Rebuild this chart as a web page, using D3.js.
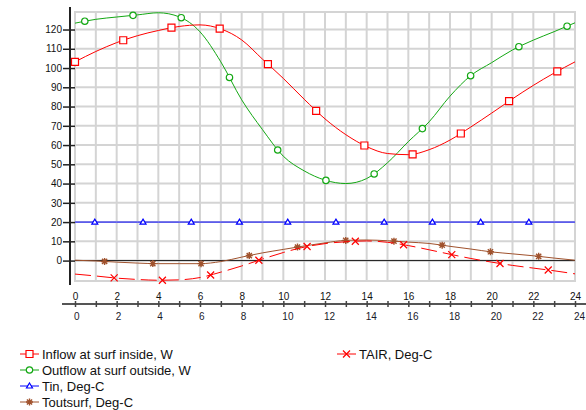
<!DOCTYPE html>
<html>
<head>
<meta charset="utf-8">
<script src="https://cdn.jsdelivr.net/npm/d3@7"></script>
<style>
  body { margin: 0; background: #fff; }
  svg { display: block; font-family: Arial, "Liberation Sans", sans-serif; }
</style>
</head>
<body>
<div id="chart"></div>
<script>
// Hour of day (x axis)
var hours = [0, 1, 2, 3, 4, 5, 6, 7, 8, 9, 10, 11, 12, 13, 14, 15, 16, 17, 18, 19, 20, 21, 22, 23, 24];

// Series values, one per hour
var inflow = [103.2, 108.6, 113.2, 116.8, 119.5, 121.6, 122.4, 120.3, 114.6, 104.6, 94.6, 83.8, 73.6, 65.4, 59.2, 55.6, 55.0, 57.6, 62.6, 69.4, 76.6, 84.0, 91.0, 97.4, 103.2];
var outflow = [123.3, 125.3, 126.5, 127.6, 128.7, 126.6, 118.8, 103.2, 83.5, 68.0, 54.2, 46.6, 41.8, 40.0, 42.6, 50.8, 61.8, 72.1, 85.4, 96.1, 102.8, 109.4, 114.5, 118.9, 123.5];
var tin = [20, 20, 20, 20, 20, 20, 20, 20, 20, 20, 20, 20, 20, 20, 20, 20, 20, 20, 20, 20, 20, 20, 20, 20, 20];
var toutsurf = [0.2, -0.2, -0.8, -1.3, -1.6, -1.6, -1.6, -0.5, 1.8, 4.0, 5.8, 7.6, 9.2, 10.5, 10.7, 10.3, 9.6, 8.9, 7.4, 6.0, 4.5, 3.5, 2.5, 1.3, 0.2];
var tair = [-7.0, -8.0, -9.1, -9.8, -10.2, -10.0, -8.8, -6.0, -2.8, 0.8, 4.2, 7.0, 8.8, 9.8, 10.2, 9.5, 7.8, 5.6, 3.3, 1.1, -0.8, -2.5, -3.9, -5.3, -6.9];

var seriesNames = ["Inflow at surf inside, W", "Outflow at surf outside, W", "Tin, Deg-C", "Toutsurf, Deg-C", "TAIR, Deg-C"];

// Tick labels
var yTicks = [0, 10, 20, 30, 40, 50, 60, 70, 80, 90, 100, 110, 120];
var xLabels = [0, 2, 4, 6, 8, 10, 12, 14, 16, 18, 20, 22, 24];

// Where the first marker of each series sits, and the spacing between markers (hours)
var markerStart = [0, 0.47, 0.95, 1.42, 1.88];
var markerStep = 2.315;

// Styles
var colors = ["#ff0000", "#14a814", "#0000ff", "#a0522d", "#ff0000"];
var symbols = ["square", "circle", "triangle", "star", "cross"];

var series = [inflow, outflow, tin, toutsurf, tair];

var width = 586, height = 410;

var svg = d3.select("#chart")
  .append("svg")
  .attr("width", width)
  .attr("height", height);

// Scales
var x = d3.scaleLinear().domain([0, 24]).range([75, 575]);
var y = d3.scaleLinear().domain([-10.6, 129.1]).range([281, 12]);

var gridColor = "#d4d4d4";

// Vertical grid, one line per hour
svg.append("g")
  .selectAll("line")
  .data(hours)
  .enter()
  .append("line")
  .attr("x1", function (d) { return x(d); })
  .attr("x2", function (d) { return x(d); })
  .attr("y1", y.range()[1])
  .attr("y2", y.range()[0])
  .attr("stroke", gridColor)
  .attr("stroke-width", 2);

// Horizontal grid
svg.append("g")
  .selectAll("line")
  .data(yTicks)
  .enter()
  .append("line")
  .attr("x1", x(0))
  .attr("x2", x(24))
  .attr("y1", function (d) { return y(d); })
  .attr("y2", function (d) { return y(d); })
  .attr("stroke", gridColor)
  .attr("stroke-width", 2);

// Plot frame
svg.append("rect")
  .attr("x", x(0))
  .attr("y", y.range()[1])
  .attr("width", x(24) - x(0))
  .attr("height", y.range()[0] - y.range()[1])
  .attr("fill", "none")
  .attr("stroke", gridColor)
  .attr("stroke-width", 2);

// Zero line
svg.append("line")
  .attr("x1", x(0))
  .attr("x2", x(24))
  .attr("y1", y(0))
  .attr("y2", y(0))
  .attr("stroke", "#1a1a1a")
  .attr("stroke-width", 1);

// Y axis
var yAxis = svg.append("g")
  .attr("transform", "translate(70,0)")
  .call(d3.axisLeft(y).tickValues(yTicks).tickSizeOuter(0).tickPadding(8));
yAxis.select(".domain").remove();
yAxis.selectAll(".tick line")
  .attr("x1", -7)
  .attr("x2", 5)
  .attr("stroke", "#222")
  .attr("stroke-width", 1.5);
yAxis.selectAll(".tick text")
  .attr("x", -8)
  .attr("font-size", 10)
  .attr("fill", "#111");
yAxis.append("line")
  .attr("x1", 0).attr("x2", 0)
  .attr("y1", 7).attr("y2", 285)
  .attr("stroke", "#222")
  .attr("stroke-width", 2);

// Upper row of x labels (no line)
var xTop = svg.append("g")
  .attr("transform", "translate(0,300)")
  .call(d3.axisBottom(x).tickValues(xLabels).tickSize(0));
xTop.select(".domain").remove();
xTop.selectAll(".tick text")
  .attr("y", 0)
  .attr("dy", null)
  .attr("font-size", 10)
  .attr("fill", "#111");

// Lower x axis with a tick every hour
var xBottom = svg.append("g")
  .attr("transform", "translate(0,304)")
  .call(d3.axisBottom(x).tickValues(hours).tickSizeOuter(0)
    .tickFormat(function (d) { return d % 2 === 0 ? d : ""; }));
xBottom.select(".domain").remove();
xBottom.selectAll(".tick line")
  .attr("y1", -3)
  .attr("y2", 3)
  .attr("stroke", "#444")
  .attr("stroke-width", 1.5);
xBottom.selectAll(".tick text")
  .attr("y", 15.5)
  .attr("dy", null)
  .attr("x", -1.5)
  .attr("text-anchor", "start")
  .attr("font-size", 10)
  .attr("fill", "#1a1a2a");
xBottom.insert("line", ":first-child")
  .attr("x1", 62).attr("x2", 586)
  .attr("y1", 0).attr("y2", 0)
  .attr("stroke", "#555")
  .attr("stroke-width", 2);

// Marker shapes centred on 0,0
function markerPath(type) {
  if (type === "square") return "M-3.5,-3.5H3.5V3.5H-3.5Z";
  if (type === "circle") return "M3.2,0A3.2,3.2 0 1,1 -3.2,0A3.2,3.2 0 1,1 3.2,0Z";
  if (type === "triangle") return "M0,-3L3,2H-3Z";
  if (type === "star") return "M-3.5,0H3.5M0,-3.5V3.5M-2.6,-2.6L2.6,2.6M-2.6,2.6L2.6,-2.6";
  return "M-3.5,-3.5L3.5,3.5M-3.5,3.5L3.5,-3.5";
}

function drawMarker(g, type, color) {
  var p = g.append("path")
    .attr("d", markerPath(type))
    .attr("stroke", color)
    .attr("stroke-width", type === "star" ? 1.4 : 1.2)
    .attr("fill", type === "square" || type === "circle" || type === "triangle" ? "#fff" : "none");
  if (type === "star") {
    g.append("circle").attr("r", 1.6).attr("fill", color);
  }
}

// Find the point on a path at a given screen x (the lines run left to right)
function pointAtX(node, px) {
  var lo = 0, hi = node.getTotalLength();
  for (var i = 0; i < 30; i++) {
    var mid = (lo + hi) / 2;
    if (node.getPointAtLength(mid).x < px) lo = mid; else hi = mid;
  }
  return node.getPointAtLength((lo + hi) / 2);
}

var line = d3.line()
  .curve(d3.curveMonotoneX)
  .x(function (d, i) { return x(hours[i]); })
  .y(function (d) { return y(d); });

// Draw series back to front
var order = [3, 4, 2, 1, 0];
order.forEach(function (k) {
  var g = svg.append("g");
  var path = g.append("path")
    .datum(series[k])
    .attr("fill", "none")
    .attr("stroke", colors[k])
    .attr("stroke-width", 1)
    .attr("stroke-dasharray", k === 4 ? "16,6" : null)
    .attr("d", line);

  for (var mx = markerStart[k]; mx <= 24.001; mx += markerStep) {
    var pt = pointAtX(path.node(), x(mx));
    var m = g.append("g").attr("transform", "translate(" + pt.x + "," + pt.y + ")");
    drawMarker(m, symbols[k], colors[k]);
  }
});

// Legend
var legendPos = [
  { lx: 20, ty: 354 },
  { lx: 20, ty: 370 },
  { lx: 20, ty: 386 },
  { lx: 20, ty: 402 },
  { lx: 337, ty: 354 }
];

seriesNames.forEach(function (name, k) {
  var pos = legendPos[k];
  var g = svg.append("g").attr("transform", "translate(" + pos.lx + "," + pos.ty + ")");
  g.append("line")
    .attr("x1", 0).attr("x2", 19)
    .attr("y1", 0).attr("y2", 0)
    .attr("stroke", colors[k])
    .attr("stroke-width", 1);
  var m = g.append("g").attr("transform", "translate(9.5,0)");
  drawMarker(m, symbols[k], colors[k]);
  g.append("text")
    .attr("x", 22)
    .attr("y", 4.7)
    .attr("font-size", 13)
    .attr("fill", "#111")
    .text(name);
});
</script>
</body>
</html>
